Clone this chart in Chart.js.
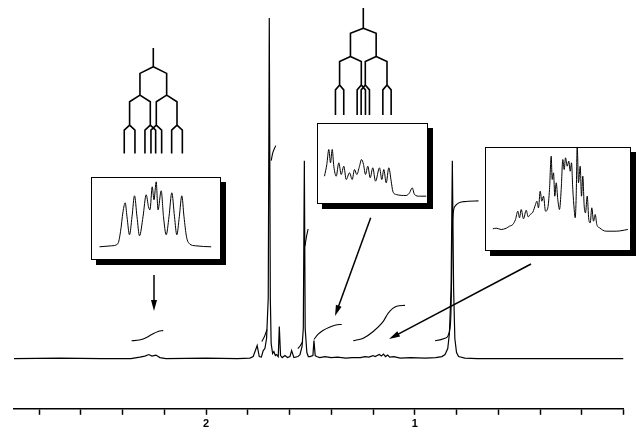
<!DOCTYPE html>
<html>
<head>
<meta charset="utf-8">
<script src="https://cdn.jsdelivr.net/npm/chart.js@4.4.1/dist/chart.umd.min.js"></script>
<style>
  body { margin: 0; background: #fff; }
  #wrap { position: relative; width: 638px; height: 435px; }
  #spec { display: block; }
  .inset { position: absolute; background: #fff; border: 1.5px solid #000; box-shadow: 5px 5px 0 #000; }
  .inset canvas { display: block; }
</style>
</head>
<body>
<div id="wrap">
  <canvas id="spec" width="638" height="435"></canvas>
  <div class="inset" style="left:91px;top:177px;width:128px;height:81px"><canvas id="in1" width="128" height="81"></canvas></div>
  <div class="inset" style="left:317px;top:123px;width:109px;height:79px"><canvas id="in2" width="109" height="79"></canvas></div>
  <div class="inset" style="left:485px;top:147px;width:144px;height:102px"><canvas id="in3" width="144" height="102"></canvas></div>
</div>
<script>
// main spectrum: chemical shift (ppm) and intensity
const specPpm = [2.92, 2.70, 2.50, 2.36, 2.317, 2.293, 2.274, 2.259, 2.240, 2.221, 2.192, 2.0, 1.85,
  1.790, 1.774, 1.755, 1.745, 1.735, 1.726, 1.718, 1.710, 1.702, 1.697, 1.692, 1.688, 1.681, 1.675,
  1.668, 1.662, 1.654, 1.649, 1.643, 1.635, 1.622, 1.610, 1.598, 1.590, 1.579, 1.560, 1.550, 1.540,
  1.534, 1.529, 1.525, 1.517, 1.510, 1.502, 1.488, 1.483, 1.477, 1.470, 1.455, 1.43, 1.40, 1.37,
  1.33, 1.30, 1.26, 1.239, 1.22, 1.20, 1.19, 1.17, 1.16, 1.15, 1.14, 1.13, 1.12, 1.10, 1.07, 1.02,
  0.95, 0.90, 0.87, 0.855, 0.842, 0.834, 0.826, 0.820, 0.814, 0.808, 0.800, 0.790, 0.76, 0.70,
  0.40, 0.10, 0];
const specInt = [0, 0.5, 0, 0, 1.5, 2.5, 4, 2.5, 3.5, 1, 0, 0.5, 0,
  0.5, 2, 13, 2, 1.5, 8, 10, 20, 60, 339, 60, 15, 5, 7,
  3, 4, 2, 32, 3, 1, 3, 1, 2, 8, 1, 2, 4, 12,
  30, 197, 30, 6, 2, 2, 3, 18, 3, 2, 1, 2, 1, 1.5,
  0.5, 1, 1, 2, 1.5, 3, 2, 4, 2.5, 4.5, 2, 3.5, 1.5, 2, 0.5, 1,
  0.5, 1, 2, 4, 10, 25, 70, 197, 70, 20, 6, 2, 0.5, 0,
  0, 0, 0];

// integral trace pieces
const int1Ppm = [2.357, 2.32, 2.29, 2.26, 2.23, 2.205];
const int1H = [17.7, 18.5, 20.5, 24, 27, 28];
const int2Ppm = [1.733, 1.72, 1.708];
const int2H = [17, 22, 29];
const int3Ppm = [1.688, 1.680, 1.666];
const int3H = [197, 205, 212];
const int4Ppm = [1.560, 1.548, 1.536];
const int4H = [10, 13, 17];
const int5Ppm = [1.526, 1.520, 1.511];
const int5H = [112, 120, 129];
const int6Ppm = [1.483, 1.464, 1.44, 1.406, 1.378, 1.350];
const int6H = [19, 24, 28, 31.5, 33.5, 34];
const int7Ppm = [1.295, 1.247, 1.199, 1.151, 1.127, 1.087, 1.047];
const int7H = [17.7, 20.3, 27, 37, 45.3, 52, 53];
const int8Ppm = [0.903, 0.855, 0.831, 0.826, 0.822, 0.818, 0.806, 0.765, 0.695];
const int8H = [17.7, 20.3, 30.3, 50, 100, 140, 152, 156.3, 157];

// expanded multiplets
const inset1X = [9, 21, 27.3, 30, 32.5, 34.7, 36.5, 39, 41.5, 44, 46.5, 49, 52.5, 55.7, 58, 59.5, 61.7,
  63.5, 65.7, 67.5, 70.7, 73, 75.7, 78.5, 81.3, 84, 86.3, 88.8, 91.3, 93.5, 96, 99, 105, 120.7];
const inset1Y = [0, 1, 3, 15, 35, 44, 30, 12, 30, 51, 30, 11, 30, 52, 40, 37, 60,
  47, 65, 37, 56, 30, 12, 30, 54, 30, 12, 30, 51, 30, 10, 3, 1, 0];
const inset2X = [8, 10.3, 12.3, 14, 15.7, 17.3, 19.7, 22.3, 24.7, 27.3, 29.7, 33, 35.7, 38, 40.3, 43, 45,
  47, 49, 51.3, 53.7, 56.3, 59, 63, 65.3, 67.3, 69.7, 72.3, 74.7, 76.3, 79.7, 89.7, 93, 95.7, 98, 103, 109.7];
const inset2Y = [20.3, 32, 47, 33.7, 47, 30.3, 20.3, 33.7, 22, 30.3, 17, 23.7, 17, 27, 22, 30.3, 37,
  32, 22, 30.3, 18.7, 28.7, 15.3, 28.7, 17, 27, 13.7, 28.7, 15.3, 5.3, 2, 1, 3.7, 8.7, 2, 0.3, 0.3];
const inset3X = [8.3, 11.7, 16.7, 21.7, 25, 28.3, 31, 33.3, 35, 36.7, 39, 41.7, 43.7, 45.7, 48.3, 51, 52.3,
  54, 55.7, 57.3, 59, 61, 63.3, 65, 66.7, 67.7, 69, 70.3, 71.7, 73.3, 75, 76.7, 78.3, 79.7, 81, 82.7,
  84.3, 85.7, 87, 88.3, 89.7, 90.7, 91.7, 92.7, 94, 95.7, 97, 98.3, 99.7, 101, 102.7, 104.3, 105.7,
  107.3, 109, 110.7, 112.3, 115, 121.7, 131.7, 143.3];
const inset3Y = [0.7, 1.3, 0, 1.3, 3.3, 5, 10, 18.3, 11.7, 20, 10.7, 19.3, 12.7, 15, 17.3, 25, 28.3,
  21.7, 38.3, 28.3, 33.3, 18.3, 21.7, 40, 73.3, 50, 56.7, 33.3, 46.7, 30, 20, 40, 70, 60, 71.7, 63.3,
  68.3, 58.3, 66.7, 40, 20, 11.7, 33.3, 83.3, 46.7, 63.3, 33.3, 53.3, 23.3, 16.7, 33.3, 10, 6.7,
  21.7, 8.3, 15, 5, 1.7, -1.7, -1.7, 0];

const zip = (xs, ys) => xs.map((x, i) => ({ x: x, y: ys[i] }));

function line(data, extra) {
  return Object.assign({
    data: data,
    borderColor: "#000",
    borderWidth: 1.2,
    pointRadius: 0,
    fill: false,
    tension: 0,
  }, extra || {});
}

function integral(xs, ys) {
  return line(zip(xs, ys), { borderWidth: 1.1, cubicInterpolationMode: "monotone" });
}

// splitting trees and arrows
function drawTree(ctx, x, top, stemEnd, splits) {
  let pos = [x];
  ctx.beginPath();
  ctx.moveTo(x, top);
  ctx.lineTo(x, stemEnd);
  let y = stemEnd;
  splits.forEach((s) => {
    const next = [];
    pos.forEach((p) => {
      [p - s.j / 2, p + s.j / 2].forEach((q) => {
        ctx.moveTo(p, y);
        ctx.lineTo(q, y + s.dy);
        ctx.lineTo(q, y + s.dy + s.len);
        next.push(q);
      });
    });
    pos = next;
    y += s.dy + s.len;
  });
  ctx.stroke();
}

function drawArrow(ctx, x1, y1, x2, y2) {
  const a = Math.atan2(y2 - y1, x2 - x1);
  const L = 11, W = 3;
  ctx.beginPath();
  ctx.moveTo(x1, y1);
  ctx.lineTo(x2 - Math.cos(a) * L * 0.8, y2 - Math.sin(a) * L * 0.8);
  ctx.stroke();
  ctx.beginPath();
  ctx.moveTo(x2, y2);
  ctx.lineTo(x2 - Math.cos(a) * L + Math.sin(a) * W, y2 - Math.sin(a) * L - Math.cos(a) * W);
  ctx.lineTo(x2 - Math.cos(a) * L - Math.sin(a) * W, y2 - Math.sin(a) * L + Math.cos(a) * W);
  ctx.closePath();
  ctx.fill();
}

const annotations = {
  id: "annotations",
  afterDraw(chart) {
    const ctx = chart.ctx;
    ctx.save();
    ctx.strokeStyle = "#000";
    ctx.fillStyle = "#000";
    ctx.lineWidth = 1.6;
    drawTree(ctx, 153.3, 48, 66.7, [
      { j: 26.7, dy: 6.7, len: 21.7 },
      { j: 20.7, dy: 6.7, len: 23.3 },
      { j: 10.7, dy: 5, len: 23.3 },
    ]);
    drawTree(ctx, 363.3, 8, 28.3, [
      { j: 25.7, dy: 5, len: 23.3 },
      { j: 21.7, dy: 5, len: 23.3 },
      { j: 8.3, dy: 5, len: 25 },
    ]);
    ctx.lineWidth = 1.5;
    drawArrow(ctx, 154, 275, 154, 311);
    drawArrow(ctx, 370.7, 217.7, 335, 316);
    drawArrow(ctx, 531, 264, 389, 339);
    ctx.restore();
  },
};

new Chart(document.getElementById("spec"), {
  type: "line",
  data: {
    datasets: [
      line(zip(specPpm, specInt)),
      integral(int1Ppm, int1H),
      integral(int2Ppm, int2H),
      integral(int3Ppm, int3H),
      integral(int4Ppm, int4H),
      integral(int5Ppm, int5H),
      integral(int6Ppm, int6H),
      integral(int7Ppm, int7H),
      integral(int8Ppm, int8H),
    ],
  },
  options: {
    responsive: false,
    animation: false,
    layout: { padding: { left: 14, right: 14.5, top: 0, bottom: 1 } },
    plugins: { legend: { display: false }, tooltip: { enabled: false } },
    scales: {
      x: {
        type: "linear",
        reverse: true,
        min: 0,
        max: 2.92,
        grid: { drawOnChartArea: false, drawTicks: true, tickLength: 6, tickWidth: 1.5, tickColor: "#000" },
        border: { display: true, color: "#000", width: 1.5 },
        ticks: {
          stepSize: 0.2,
          includeBounds: false,
          autoSkip: false,
          maxRotation: 0,
          padding: 3,
          color: "#000",
          font: { family: "Liberation Sans, Arial, sans-serif", size: 11, weight: "bold" },
          callback: (v) => (v > 0.5 && Math.abs(v - Math.round(v)) < 1e-6 ? String(Math.round(v)) : ""),
        },
      },
      y: { display: false, min: -50, max: 357 },
    },
  },
  plugins: [annotations],
});

function makeInset(id, xs, ys, xmin, xmax, ymin, ymax) {
  new Chart(document.getElementById(id), {
    type: "line",
    data: { datasets: [line(zip(xs, ys), { borderWidth: 1, cubicInterpolationMode: "monotone" })] },
    options: {
      responsive: false,
      animation: false,
      layout: { padding: 0 },
      plugins: { legend: { display: false }, tooltip: { enabled: false } },
      scales: {
        x: { type: "linear", display: false, min: xmin, max: xmax },
        y: { display: false, min: ymin, max: ymax },
      },
    },
  });
}

makeInset("in1", inset1X, inset1Y, 1.5, 129.5, -12.2, 68.8);
makeInset("in2", inset2X, inset2Y, 1.5, 110.5, -6.5, 72.5);
makeInset("in3", inset3X, inset3Y, 1.5, 145.5, -20.5, 81.5);
</script>
</body>
</html>
